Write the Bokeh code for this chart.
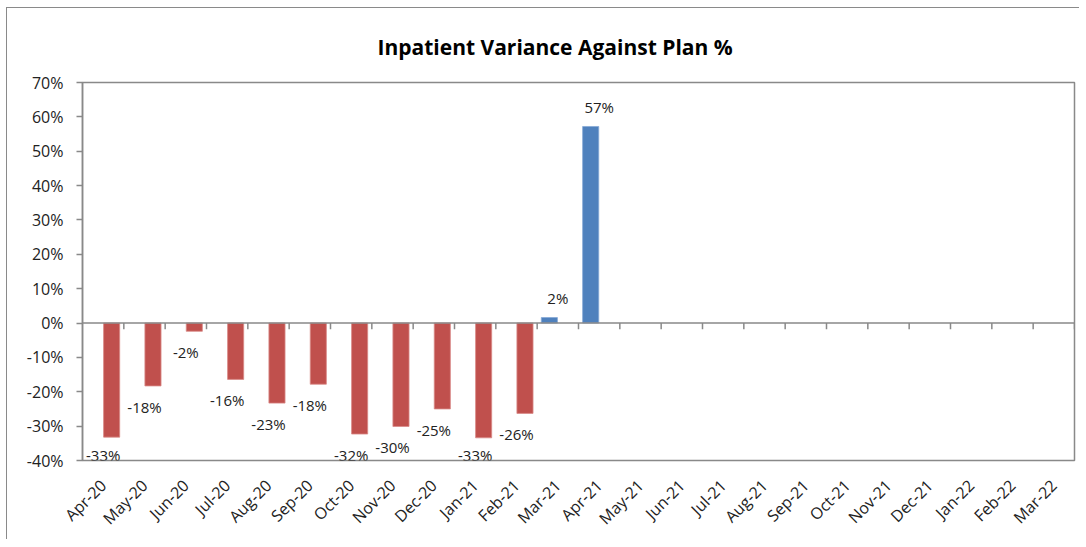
from bokeh.plotting import figure
from bokeh.models import (ColumnDataSource, Range1d, FixedTicker, PrintfTickFormatter,
                          Span)
from bokeh.transform import dodge
from bokeh.core.properties import value
from bokeh.embed import file_html
from bokeh.resources import INLINE
from math import pi

# ---- data ----
title_text = "Inpatient Variance Against Plan %"
months = ["Apr-20", "May-20", "Jun-20", "Jul-20", "Aug-20", "Sep-20", "Oct-20",
          "Nov-20", "Dec-20", "Jan-21", "Feb-21", "Mar-21", "Apr-21", "May-21",
          "Jun-21", "Jul-21", "Aug-21", "Sep-21", "Oct-21", "Nov-21", "Dec-21",
          "Jan-22", "Feb-22", "Mar-22"]
variance_months = ["Apr-20", "May-20", "Jun-20", "Jul-20", "Aug-20", "Sep-20", "Oct-20",
                   "Nov-20", "Dec-20", "Jan-21", "Feb-21", "Mar-21", "Apr-21"]
variance_pct = [-33.2, -18.3, -2.4, -16.4, -23.3, -17.8, -32.3,
                -30.1, -25.0, -33.4, -26.3, 1.6, 57.2]
y_ticks = [-40, -30, -20, -10, 0, 10, 20, 30, 40, 50, 60, 70]

RED = "#C0504D"
BLUE = "#4F81BD"
FONT = "Open Sans"
GREY = "#898989"

neg = [(m, v) for m, v in zip(variance_months, variance_pct) if v < 0]
pos = [(m, v) for m, v in zip(variance_months, variance_pct) if v >= 0]

neg_src = ColumnDataSource(dict(
    m=[m for m, _ in neg], v=[v for _, v in neg],
    ly=[max(v - 6.1, -38.3) for _, v in neg],
    lab=[f"{v:.0f}%" for _, v in neg]))
pos_src = ColumnDataSource(dict(
    m=[m for m, _ in pos], v=[v for _, v in pos],
    ly=[v + 5.6 for _, v in pos],
    lab=[f"{v:.0f}%" for _, v in pos]))
tick_src = ColumnDataSource(dict(m=months))

p = figure(x_range=months, y_range=Range1d(-40, 70), width=1073, height=532,
           output_backend="svg", toolbar_location=None,
           min_border_left=75, min_border_right=6, min_border_top=74, min_border_bottom=80,
           styles={"border-left": "1.5px solid #8a8a8a", "border-top": "1.5px solid #8a8a8a",
                   "margin-left": "6px", "margin-top": "7px"})

p.title.text = title_text
p.title.text_font = FONT
p.title.text_font_size = "21px"
p.title.text_font_style = "bold"
p.title.text_color = "#000000"
p.title.align = "left"
p.title.offset = 295
p.title.standoff = 44

p.xgrid.visible = False
p.ygrid.visible = False
p.outline_line_color = GREY
p.outline_line_width = 1.5

# y axis
p.yaxis.ticker = FixedTicker(ticks=y_ticks)
p.yaxis.formatter = PrintfTickFormatter(format="%d%%")
p.yaxis.axis_line_color = GREY
p.yaxis.axis_line_width = 1.5
p.yaxis.major_tick_line_color = GREY
p.yaxis.major_tick_line_width = 1.5
p.yaxis.major_tick_out = 6
p.yaxis.major_tick_in = 0
p.yaxis.minor_tick_line_color = None
p.yaxis.major_label_text_font = FONT
p.yaxis.major_label_text_font_size = "16px"
p.yaxis.major_label_text_color = "#222222"
p.yaxis.major_label_standoff = 13

# x axis (labels only, at bottom)
p.xaxis.axis_line_color = None
p.xaxis.major_tick_line_color = None
p.xaxis.minor_tick_line_color = None
p.xaxis.major_label_orientation = pi / 4
p.xaxis.major_label_text_font = FONT
p.xaxis.major_label_text_font_size = "16px"
p.xaxis.major_label_text_color = "#222222"
p.xaxis.major_label_standoff = 16

# zero line with category boundary ticks
p.add_layout(Span(location=0, dimension="width", line_color=GREY, line_width=1.5))
p.segment(x0=dodge("m", 0.5, range=p.x_range), y0=0,
          x1=dodge("m", 0.5, range=p.x_range), y1=-1.8,
          source=tick_src, line_color=GREY, line_width=1.5)

# bars
p.vbar(x=dodge("m", 0.205, range=p.x_range), top="v", bottom=0, width=0.39,
       source=neg_src, fill_color=RED, line_color="#d98a88", line_width=0.8)
p.vbar(x=dodge("m", -0.205, range=p.x_range), top="v", bottom=0, width=0.39,
       source=pos_src, fill_color=BLUE, line_color="#86a8d6", line_width=0.8)

# data labels
for src in (neg_src, pos_src):
    p.text(x="m", y="ly", text="lab", source=src, text_align="center",
           text_baseline="middle", text_font=value(FONT), text_font_size="15px",
           text_color="#222222")

open("out.html", "w").write(file_html(p, INLINE))
